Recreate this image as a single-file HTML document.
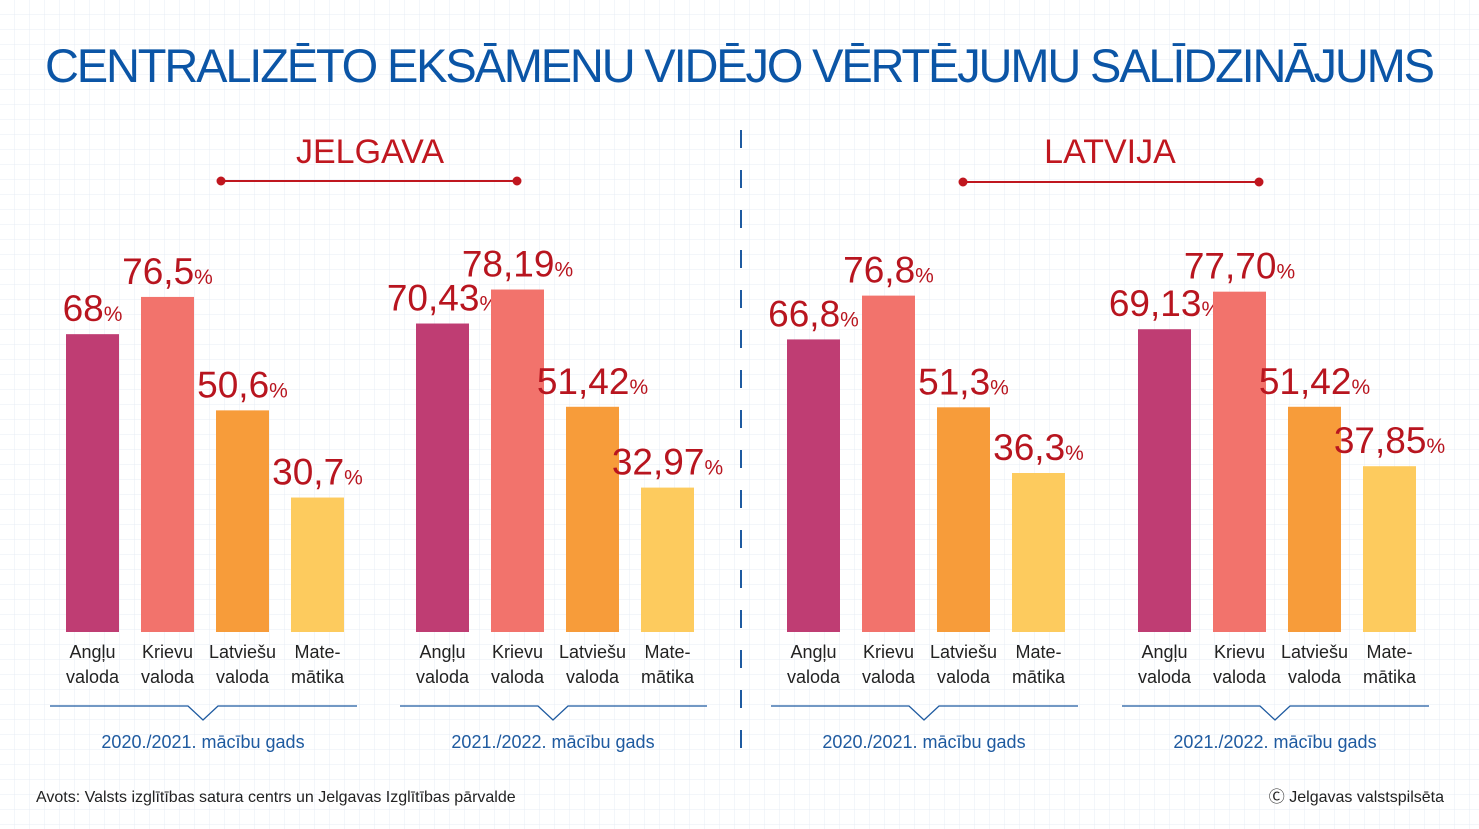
<!DOCTYPE html>
<html><head><meta charset="utf-8"><style>
body{margin:0;width:1479px;height:829px;overflow:hidden;background:#fff;font-family:"Liberation Sans",sans-serif}
svg{display:block}
</style></head><body>
<svg id="chart" width="1479" height="829">
<defs><pattern id="grid" width="15" height="15" patternUnits="userSpaceOnUse"><path d="M15 0V15H0" fill="none" stroke="#e7ecf4" stroke-width="1"/></pattern></defs>
<rect width="1479" height="829" fill="url(#grid)"/>
<text x="740" y="82" text-anchor="middle" font-size="47" fill="#0b55a6" textLength="1390">CENTRALIZĒTO EKSĀMENU VIDĒJO VĒRTĒJUMU SALĪDZINĀJUMS</text>
<text x="370" y="163" text-anchor="middle" font-size="34" fill="#c0171f">JELGAVA</text>
<text x="1110" y="163" text-anchor="middle" font-size="34" fill="#c0171f">LATVIJA</text>
<g stroke="#c0171f" stroke-width="2" fill="#c0171f">
<line x1="221" y1="181" x2="517" y2="181"/><circle cx="221" cy="181" r="3.5"/><circle cx="517" cy="181" r="3.5"/>
<line x1="963" y1="182" x2="1259" y2="182"/><circle cx="963" cy="182" r="3.5"/><circle cx="1259" cy="182" r="3.5"/>
</g>
<line x1="741" y1="130" x2="741" y2="762" stroke="#1e5aa0" stroke-width="2" stroke-dasharray="18,22"/>
<g id="bars"></g>
<text x="36" y="802" font-size="16" fill="#222">Avots: Valsts izglītības satura centrs un Jelgavas Izglītības pārvalde</text>
<text x="1444" y="802" text-anchor="end" font-size="16" fill="#222">Ⓒ Jelgavas valstspilsēta</text>
</svg>
<script>
const groups=["2020./2021. mācību gads","2021./2022. mācību gads","2020./2021. mācību gads","2021./2022. mācību gads"];
const subjectsLine1=["Angļu","Krievu","Latviešu","Mate-"];
const subjectsLine2=["valoda","valoda","valoda","mātika"];
const valJ2021=[68,76.5,50.6,30.7];
const valJ2022=[70.43,78.19,51.42,32.97];
const valL2021=[66.8,76.8,51.3,36.3];
const valL2022=[69.13,77.70,51.42,37.85];
const labJ2021=["68","76,5","50,6","30,7"];
const labJ2022=["70,43","78,19","51,42","32,97"];
const labL2021=["66,8","76,8","51,3","36,3"];
const labL2022=["69,13","77,70","51,42","37,85"];
const series=[valJ2021,valJ2022,valL2021,valL2022];
const labels=[labJ2021,labJ2022,labL2021,labL2022];
const colors=["#bf3d73","#f2736c","#f79c3a","#fdcb5e"];
const groupX=[66,416,787,1138];
const base=632, scale=4.38, step=75, bw=53;
const y=v=>base-v*scale;
const g=document.getElementById('bars');
const NS="http://www.w3.org/2000/svg";
function mk(t,a){const e=document.createElementNS(NS,t);for(const k in a)e.setAttribute(k,a[k]);g.appendChild(e);return e;}
series.forEach((vals,gi)=>{
 vals.forEach((v,i)=>{
  const x=groupX[gi]+i*step;
  const r=mk('rect',{x:x,y:y(v),width:bw,height:base-y(v),fill:colors[i]});
  
  
  const t=mk('text',{x:x+bw/2,y:y(v)-13,'text-anchor':'middle','font-size':37,fill:'#b8151f'});
  
  
  t.innerHTML=labels[gi][i]+'<tspan font-size="21">%</tspan>';
  const c1=mk('text',{x:x+bw/2,y:658,'text-anchor':'middle','font-size':18,fill:'#222'});
  
  
  c1.textContent=subjectsLine1[i];
  const c2=mk('text',{x:x+bw/2,y:683,'text-anchor':'middle','font-size':18,fill:'#222'});
  
  
  c2.textContent=subjectsLine2[i];
 });
 const cx=groupX[gi]+137, l=cx-153, rr=cx+154;
 const p=mk('path',{d:`M${l} 706H${cx-15}L${cx} 720L${cx+15} 706H${rr}`,fill:'none',stroke:'#1e5aa0','stroke-width':1.3});
 
 
 const yt=mk('text',{x:cx,y:748,'text-anchor':'middle','font-size':18,fill:'#1e5aa0'});
 
 
 yt.textContent=groups[gi];
});
</script>
</body></html>
